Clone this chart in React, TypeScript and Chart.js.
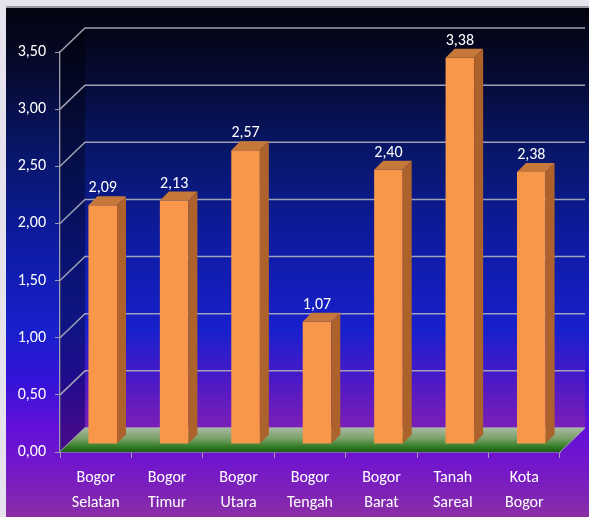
import { useEffect, useRef } from "react";
import { Chart, registerables } from "chart.js";

Chart.register(...registerables);

const categories: string[][] = [
  ["Bogor", "Selatan"],
  ["Bogor", "Timur"],
  ["Bogor", "Utara"],
  ["Bogor", "Tengah"],
  ["Bogor", "Barat"],
  ["Tanah", "Sareal"],
  ["Kota", "Bogor"],
];
const values: number[] = [2.09, 2.13, 2.57, 1.07, 2.4, 3.38, 2.38];
const yMin = 0;
const yMax = 3.5;
const yStep = 0.5;

const W = 589;
const H = 517;
const FONT = 'Carlito, "Liberation Sans Narrow", "DejaVu Sans Condensed", sans-serif';
const DEPTH_X = 25;
const DEPTH_Y = -24;
const BAR_SHIFT_X = 7;
const BAR_SHIFT_Y = -8;
const BAR_DX = 9;
const BAR_DY = -9;
const AXIS_GRAY = "#9c9cae";

const fmt = (v: number) => Number(v).toFixed(2).replace(".", ",");

const scene3d = {
  id: "scene3d",
  beforeDraw(chart: any) {
    const ctx: CanvasRenderingContext2D = chart.ctx;
    ctx.save();
    ctx.fillStyle = "#e6e3ee";
    ctx.fillRect(0, 0, W, H);
    ctx.fillStyle = "#9a98a4";
    ctx.fillRect(6, 6, W - 6, 2);
    const g = ctx.createLinearGradient(0, 8, 0, H);
    const stops: [number, string][] = [
      [8, "#04040e"],
      [60, "#050828"],
      [150, "#081668"],
      [250, "#0e1ca6"],
      [330, "#1820cc"],
      [380, "#3412d8"],
      [430, "#6410d8"],
      [470, "#7418c8"],
      [517, "#8a2ea6"],
    ];
    stops.forEach(([y, c]) => g.addColorStop((y - 8) / (H - 8), c));
    ctx.fillStyle = g;
    ctx.fillRect(6, 8, W - 6, H - 8);
    ctx.restore();
  },
  beforeDatasetsDraw(chart: any) {
    const ctx: CanvasRenderingContext2D = chart.ctx;
    const { left, right, top, bottom } = chart.chartArea;
    const ys = chart.scales.y;
    const bx0 = left + DEPTH_X;
    const bx1 = right + DEPTH_X;
    const by0 = top + DEPTH_Y;
    const by1 = bottom + DEPTH_Y;
    ctx.save();
    const wg = ctx.createLinearGradient(0, 330, 0, by1);
    wg.addColorStop(0, "rgba(150,50,140,0)");
    wg.addColorStop(1, "rgba(150,50,140,0.45)");
    ctx.fillStyle = wg;
    ctx.fillRect(bx0, 330, bx1 - bx0, by1 - 330);
    ctx.beginPath();
    ctx.moveTo(left, top);
    ctx.lineTo(bx0, by0);
    ctx.lineTo(bx0, by1);
    ctx.lineTo(left, bottom);
    ctx.closePath();
    ctx.fillStyle = "rgba(0,0,0,0.35)";
    ctx.fill();
    ctx.strokeStyle = "rgba(168,168,184,0.95)";
    ctx.lineWidth = 1.5;
    for (let v = yMin; v <= yMax + 1e-9; v += yStep) {
      const py = ys.getPixelForValue(v);
      ctx.beginPath();
      ctx.moveTo(left, py);
      ctx.lineTo(left + DEPTH_X, py + DEPTH_Y);
      ctx.lineTo(bx1, py + DEPTH_Y);
      ctx.stroke();
    }
    const fg = ctx.createLinearGradient(0, by1, 0, bottom);
    fg.addColorStop(0, "#a9b8a2");
    fg.addColorStop(0.45, "#78a066");
    fg.addColorStop(0.8, "#2f7a22");
    fg.addColorStop(1, "#1d5e17");
    ctx.beginPath();
    ctx.moveTo(left, bottom);
    ctx.lineTo(bx0, by1);
    ctx.lineTo(bx1, by1);
    ctx.lineTo(right, bottom);
    ctx.closePath();
    ctx.fillStyle = fg;
    ctx.fill();
    ctx.strokeStyle = "rgba(180,190,180,0.8)";
    ctx.lineWidth = 1;
    ctx.beginPath();
    ctx.moveTo(right, bottom);
    ctx.lineTo(bx1, by1);
    ctx.stroke();
    ctx.translate(BAR_SHIFT_X, BAR_SHIFT_Y);
  },
  afterDatasetsDraw(chart: any) {
    const ctx: CanvasRenderingContext2D = chart.ctx;
    const meta = chart.getDatasetMeta(0);
    const data = chart.data.datasets[0].data as number[];
    meta.data.forEach((el: any, i: number) => {
      const { x, y, base, width } = el.getProps(["x", "y", "base", "width"], true);
      const xl = x - width / 2;
      const xr = x + width / 2;
      ctx.beginPath();
      ctx.moveTo(xr, y);
      ctx.lineTo(xr + BAR_DX, y + BAR_DY);
      ctx.lineTo(xr + BAR_DX, base + BAR_DY);
      ctx.lineTo(xr, base);
      ctx.closePath();
      ctx.fillStyle = "#ad622b";
      ctx.fill();
      ctx.beginPath();
      ctx.moveTo(xl, y);
      ctx.lineTo(xl + BAR_DX, y + BAR_DY);
      ctx.lineTo(xr + BAR_DX, y + BAR_DY);
      ctx.lineTo(xr, y);
      ctx.closePath();
      ctx.fillStyle = "#c6773a";
      ctx.fill();
      ctx.fillStyle = "#ffffff";
      ctx.font = `16px ${FONT}`;
      ctx.textAlign = "center";
      ctx.textBaseline = "alphabetic";
      ctx.fillText(fmt(data[i]), x, y + BAR_DY - 4);
    });
    ctx.restore();
  },
};

export default function App() {
  const ref = useRef<HTMLCanvasElement | null>(null);
  useEffect(() => {
    if (!ref.current) return;
    const chart = new Chart(ref.current, {
      type: "bar",
      data: {
        labels: categories,
        datasets: [
          {
            data: values,
            backgroundColor: "#f8974a",
            borderWidth: 0,
            barPercentage: 0.4,
            categoryPercentage: 1,
            clip: false,
          } as any,
        ],
      },
      options: {
        responsive: false,
        animation: false,
        devicePixelRatio: 1,
        layout: { padding: { top: 52, right: 29, left: 0, bottom: 0 } },
        plugins: { legend: { display: false }, tooltip: { enabled: false } },
        scales: {
          x: {
            z: 1,
            grid: { drawOnChartArea: false, drawTicks: true, tickLength: 6, color: AXIS_GRAY, lineWidth: 1 },
            border: { display: true, color: AXIS_GRAY, width: 1.5 },
            ticks: {
              color: "#ffffff",
              font: { family: FONT, size: 16, lineHeight: 1.55 },
              padding: 8,
              maxRotation: 0,
              autoSkip: false,
            },
            afterFit(s: any) {
              s.height = 65;
            },
          },
          y: {
            z: 1,
            min: yMin,
            max: yMax,
            ticks: {
              stepSize: yStep,
              callback: (v: any) => fmt(v),
              color: "#ffffff",
              font: { family: FONT, size: 16 },
              padding: 9,
            },
            grid: { drawOnChartArea: false, drawTicks: true, tickLength: 5, color: AXIS_GRAY },
            border: { display: true, color: AXIS_GRAY, width: 1.5 },
            afterFit(s: any) {
              s.width = 60;
            },
          },
        },
      } as any,
      plugins: [scene3d],
    });
    return () => chart.destroy();
  }, []);
  return (
    <div style={{ position: "fixed", left: 0, top: 0, width: W, height: H }}>
      <canvas ref={ref} width={W} height={H} style={{ display: "block", width: W, height: H }} />
    </div>
  );
}
